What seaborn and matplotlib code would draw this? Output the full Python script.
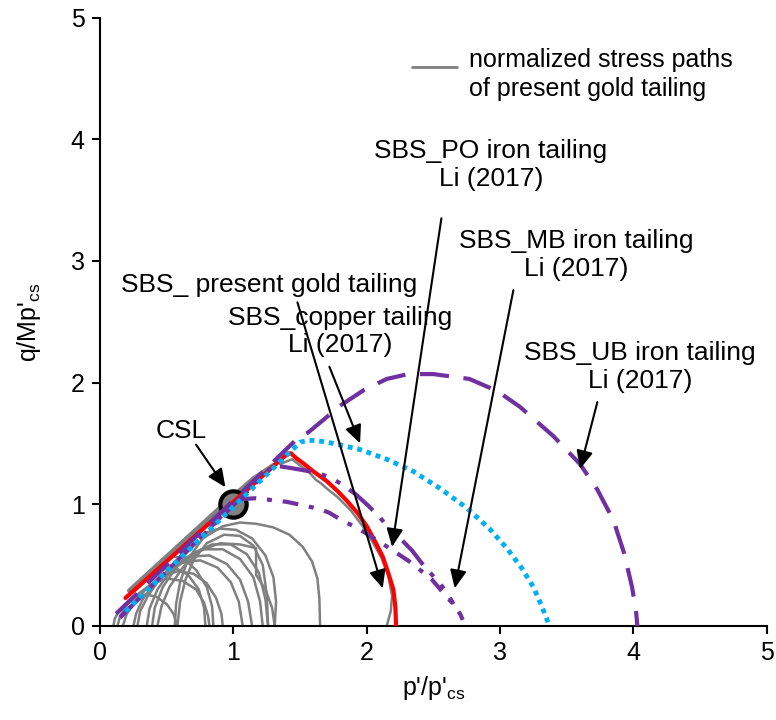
import matplotlib
matplotlib.use("Agg")
import matplotlib.pyplot as plt
import seaborn as sns

sns.set_style("ticks")
plt.rcParams['font.family'] = ['Liberation Sans', 'DejaVu Sans']
plt.rcParams['mathtext.fontset'] = 'custom'
plt.rcParams['mathtext.rm'] = 'Liberation Sans'
plt.rcParams['mathtext.it'] = 'Liberation Sans'
for key in ("text.color", "axes.labelcolor", "xtick.color", "ytick.color", "axes.edgecolor"):
    plt.rcParams[key] = "black"

FS = 18
FS_NOTE = 19

# ---- state boundary surfaces (normalized) ----
gold_p = [0.19, 1.40, 1.43, 1.47, 1.52, 1.60, 1.70, 1.78, 1.85, 1.93, 2.00, 2.06, 2.12, 2.16, 2.20, 2.215, 2.22]
gold_q = [0.23, 1.41, 1.42, 1.38, 1.34, 1.27, 1.19, 1.11, 1.03, 0.93, 0.82, 0.70, 0.57, 0.44, 0.30, 0.15, 0.0]

copper_p = [0.19, 1.50, 1.56, 1.62, 1.75, 1.95, 2.15, 2.35, 2.55, 2.75, 2.92, 3.05, 3.16, 3.25, 3.31, 3.36]
copper_q = [0.12, 1.51, 1.525, 1.525, 1.50, 1.45, 1.37, 1.27, 1.13, 0.97, 0.80, 0.64, 0.48, 0.32, 0.17, 0.03]

ub_p = [0.12, 1.47, 1.56, 1.66, 1.80, 1.98, 2.15, 2.31, 2.50, 2.77, 2.98, 3.15, 3.40, 3.60, 3.73, 3.85, 3.93, 3.99, 4.02, 4.03]
ub_q = [0.10, 1.53, 1.59, 1.68, 1.81, 1.94, 2.03, 2.07, 2.07, 2.03, 1.93, 1.80, 1.56, 1.33, 1.12, 0.87, 0.60, 0.32, 0.12, 0.0]

po_p = [0.15, 1.00, 1.02, 1.17, 1.40, 1.55, 1.65, 1.72, 1.81, 1.92, 2.02, 2.12, 2.21, 2.32, 2.40, 2.49, 2.56, 2.64, 2.70, 2.72]
po_q = [0.07, 1.00, 1.04, 1.05, 1.02, 0.985, 0.96, 0.93, 0.87, 0.81, 0.745, 0.675, 0.61, 0.53, 0.46, 0.38, 0.29, 0.19, 0.10, 0.05]

mb_p = [0.15, 1.30, 1.42, 1.50, 1.60, 1.72, 1.82, 1.92, 2.01, 2.10, 2.17, 2.26, 2.34, 2.41, 2.49, 2.57, 2.62, 2.65]
mb_q = [0.07, 1.32, 1.30, 1.285, 1.265, 1.225, 1.16, 1.08, 0.99, 0.89, 0.80, 0.71, 0.62, 0.52, 0.42, 0.32, 0.24, 0.18]

# ---- normalized stress paths of the gold tailing ----
sp01_p = [0.22, 0.45, 0.70, 0.95, 1.15, 1.30]
sp01_q = [0.29, 0.52, 0.77, 1.02, 1.21, 1.32]
sp02_p = [0.26, 0.60, 1.00, 1.25]
sp02_q = [0.30, 0.64, 1.04, 1.28]
sp03_p = [2.15, 2.18, 2.19, 2.16, 2.11, 2.05, 1.97, 1.88, 1.78, 1.70, 1.66, 1.62, 1.57, 1.50, 1.44, 1.35]
sp03_q = [0.0, 0.12, 0.25, 0.42, 0.56, 0.68, 0.82, 0.95, 1.06, 1.13, 1.17, 1.20, 1.26, 1.32, 1.37, 1.33]
sp04_p = [0.10, 0.11, 0.14, 0.19, 0.26, 0.34, 0.42, 0.50, 0.55, 0.58]
sp04_q = [0.0, 0.06, 0.12, 0.18, 0.23, 0.26, 0.24, 0.18, 0.10, 0.0]
sp05_p = [0.13, 0.15, 0.20, 0.28, 0.38, 0.50, 0.62, 0.72, 0.78, 0.81, 0.82]
sp05_q = [0.0, 0.08, 0.17, 0.26, 0.34, 0.39, 0.37, 0.30, 0.19, 0.08, 0.0]
sp06_p = [0.17, 0.20, 0.26, 0.35, 0.46, 0.58, 0.70, 0.80, 0.87, 0.91, 0.92]
sp06_q = [0.0, 0.10, 0.20, 0.31, 0.40, 0.45, 0.43, 0.35, 0.23, 0.10, 0.0]
sp07_p = [0.25, 0.27, 0.32, 0.40, 0.50, 0.62, 0.75, 0.88, 0.98, 1.04, 1.07]
sp07_q = [0.0, 0.10, 0.22, 0.34, 0.45, 0.52, 0.54, 0.48, 0.36, 0.20, 0.0]
sp08_p = [0.28, 0.30, 0.36, 0.45, 0.56, 0.68, 0.82, 0.95, 1.05, 1.11, 1.14]
sp08_q = [0.0, 0.12, 0.25, 0.39, 0.50, 0.57, 0.58, 0.51, 0.38, 0.20, 0.0]
sp09_p = [0.35, 0.37, 0.43, 0.52, 0.64, 0.78, 0.92, 1.05, 1.15, 1.20, 1.22]
sp09_q = [0.0, 0.14, 0.30, 0.44, 0.56, 0.63, 0.63, 0.55, 0.40, 0.20, 0.0]
sp10_p = [0.39, 0.41, 0.47, 0.57, 0.70, 0.84, 0.98, 1.10, 1.19, 1.24, 1.26]
sp10_q = [0.0, 0.15, 0.32, 0.48, 0.60, 0.67, 0.67, 0.59, 0.44, 0.22, 0.0]
sp11_p = [0.43, 0.46, 0.52, 0.62, 0.75, 0.90, 1.05, 1.17, 1.17, 1.24, 1.29, 1.31]
sp11_q = [0.0, 0.16, 0.32, 0.48, 0.62, 0.68, 0.67, 0.64, 0.42, 0.30, 0.15, 0.0]
sp12_p = [0.56, 0.57, 0.60, 0.66, 0.77, 0.92, 1.05, 1.17, 1.30, 1.42, 1.52, 1.59, 1.63, 1.645, 1.65]
sp12_q = [0.0, 0.18, 0.36, 0.55, 0.72, 0.82, 0.85, 0.84, 0.81, 0.75, 0.65, 0.53, 0.39, 0.22, 0.0]
sp13_p = [0.79, 0.78, 0.74, 0.66, 0.56, 0.46, 0.38]
sp13_q = [0.0, 0.15, 0.30, 0.42, 0.48, 0.46, 0.40]
sp14_p = [0.85, 0.84, 0.80, 0.72, 0.62, 0.55]
sp14_q = [0.0, 0.16, 0.32, 0.46, 0.56, 0.57]
sp15_p = [0.58, 0.60, 0.64, 0.70, 0.80, 0.93, 1.05, 1.15, 1.22, 1.25, 1.26]
sp15_q = [0.0, 0.20, 0.38, 0.54, 0.68, 0.75, 0.74, 0.66, 0.50, 0.26, 0.0]
sp16_p = [0.80, 0.90, 1.02, 1.14, 1.24, 1.30, 1.32, 1.31]
sp16_q = [0.77, 0.80, 0.79, 0.72, 0.58, 0.40, 0.20, 0.0]

stress_paths = [(sp01_p, sp01_q), (sp02_p, sp02_q), (sp03_p, sp03_q), (sp04_p, sp04_q),
                (sp05_p, sp05_q), (sp06_p, sp06_q), (sp07_p, sp07_q), (sp08_p, sp08_q),
                (sp09_p, sp09_q), (sp10_p, sp10_q), (sp11_p, sp11_q), (sp12_p, sp12_q),
                (sp13_p, sp13_q), (sp14_p, sp14_q), (sp15_p, sp15_q), (sp16_p, sp16_q)]

csl_p = [1.0]
csl_q = [1.0]

ticks = [0, 1, 2, 3, 4, 5]

GRAY = "#808080"
RED = "#FF0000"
BLUE = "#00B0F0"
PURPLE = "#7030A0"

fig = plt.figure(figsize=(7.76, 7.2), dpi=100)
ax = fig.add_axes([0.129, 0.1306, 0.859, 0.845])


def trace(p, q, color, lw, z, dashes=None):
    sns.lineplot(x=p, y=q, sort=False, estimator=None, color=color,
                 linewidth=lw, ax=ax, zorder=z)
    line = ax.lines[-1]
    if dashes is not None:
        line.set_dashes(dashes)
    return line


for i, (p, q) in enumerate(stress_paths):
    trace(p, q, GRAY, 3.5 if i < 2 else 1.8, 1)

sns.scatterplot(x=csl_p, y=csl_q, s=360, color=GRAY, edgecolor="black",
                linewidth=3, ax=ax, zorder=2)

trace(gold_p, gold_q, RED, 3.0, 3)
trace(ub_p, ub_q, PURPLE, 3.0, 4, dashes=(7, 3.5))
trace(po_p, po_q, PURPLE, 3.0, 4, dashes=(3.8, 2.6, 1.2, 2.6))
trace(mb_p, mb_q, PURPLE, 3.0, 4, dashes=(7.6, 2.6, 1.2, 2.6, 1.2, 2.6))
trace(copper_p, copper_q, BLUE, 3.5, 5, dashes=(1, 1))

# legend entry for the stress paths
trace([2.34, 2.68], [4.59, 4.59], GRAY, 2.0, 1)
ax.text(2.77, 4.53, "normalized stress paths\nof present gold tailing", fontsize=FS,
        ha="left", va="center", linespacing=1.25)

# annotations
arrow_kw = dict(arrowstyle="-|>,head_length=0.55,head_width=0.25", color="black",
                lw=1.5, shrinkA=0, shrinkB=0, mutation_scale=20)


def callout(tail, head):
    ax.annotate("", xy=head, xytext=tail, arrowprops=arrow_kw, zorder=6)


ax.text(0.61, 1.60, "CSL", fontsize=FS_NOTE, ha="center", va="center")
callout((0.72, 1.49), (0.94, 1.14))

ax.text(1.27, 2.80, "SBS_ present gold tailing", fontsize=FS_NOTE, ha="center", va="center")
callout((1.48, 2.66), (2.12, 0.31))

ax.text(1.80, 2.42, "SBS_copper tailing\nLi (2017)", fontsize=FS_NOTE, ha="center",
        va="center", linespacing=1.2)
callout((1.72, 2.13), (1.95, 1.50))

ax.text(2.93, 3.79, "SBS_PO iron tailing\nLi (2017)", fontsize=FS_NOTE, ha="center",
        va="center", linespacing=1.2)
callout((2.56, 3.35), (2.19, 0.65))

ax.text(3.57, 3.05, "SBS_MB iron tailing\nLi (2017)", fontsize=FS_NOTE, ha="center",
        va="center", linespacing=1.2)
callout((3.10, 2.76), (2.66, 0.31))

ax.text(4.05, 2.13, "SBS_UB iron tailing\nLi (2017)", fontsize=FS_NOTE, ha="center",
        va="center", linespacing=1.2)
callout((3.73, 1.84), (3.60, 1.29))

ax.set_xlim(0, 5)
ax.set_ylim(0, 5)
ax.set_xticks(ticks)
ax.set_yticks(ticks)
ax.tick_params(axis="both", labelsize=FS, direction="out", length=6, width=1.5,
               color="black", pad=5)
for side in ("top", "right"):
    ax.spines[side].set_visible(False)
for side in ("left", "bottom"):
    ax.spines[side].set_linewidth(1.5)
    ax.spines[side].set_color("black")

ax.set_xlabel(r"p'/p'$_\mathregular{cs}$", fontsize=FS, labelpad=6)
ax.set_ylabel(r"q/Mp'$_\mathregular{cs}$", fontsize=FS, labelpad=20)

fig.savefig("out.png", dpi=100)
